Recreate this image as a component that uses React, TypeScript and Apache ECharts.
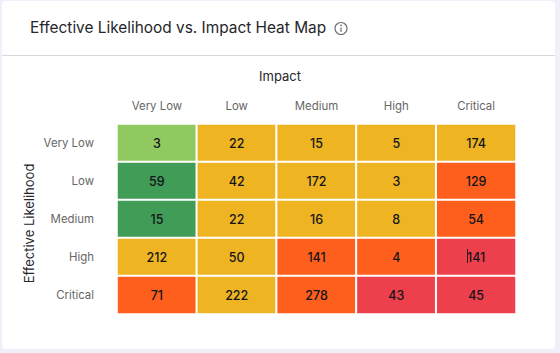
import React, { useEffect, useRef } from "react";
import * as echarts from "echarts";

const titleText = "Effective Likelihood vs. Impact Heat Map";
const xName = "Impact";
const yName = "Effective Likelihood";
const impactLabels = ["Very Low", "Low", "Medium", "High", "Critical"];
const likelihoodLabels = ["Very Low", "Low", "Medium", "High", "Critical"];
const counts = [
  [3, 22, 15, 5, 174],
  [59, 42, 172, 3, 129],
  [15, 22, 16, 8, 54],
  [212, 50, 141, 4, 141],
  [71, 222, 278, 43, 45],
];
// 0 lime, 1 green, 2 amber, 3 orange, 4 red
const levels = [
  [0, 2, 2, 2, 2],
  [1, 2, 2, 2, 3],
  [1, 2, 2, 2, 3],
  [2, 2, 3, 3, 4],
  [3, 2, 3, 4, 4],
];
const palette = ["#8fc95f", "#409c57", "#eeb422", "#fe5f1c", "#ee404c"];
const FONT = "Inter";

export default function App() {
  const ref = useRef<HTMLDivElement>(null);
  useEffect(() => {
    document.body.style.margin = "0";
    const chart = echarts.init(ref.current!, null, { renderer: "svg" });
    const data: number[][] = [];
    counts.forEach((row, r) => row.forEach((v, c) => data.push([c, r, v, levels[r][c]])));
    chart.setOption({
      animation: false,
      backgroundColor: "#eff0fa",
      textStyle: { fontFamily: FONT },
      title: {
        text: titleText,
        left: 30,
        top: 20,
        padding: 0,
        textStyle: { fontFamily: FONT, fontSize: 15.4, fontWeight: 400, color: "#26262b" },
      },
      grid: { left: 117, top: 124, width: 399, height: 190 },
      visualMap: {
        show: false,
        type: "piecewise",
        dimension: 3,
        pieces: palette.map((color, i) => ({ value: i, color })),
      },
      xAxis: {
        type: "category",
        position: "top",
        data: impactLabels,
        name: xName,
        nameLocation: "middle",
        nameGap: 42,
        nameTextStyle: { fontFamily: FONT, fontSize: 13, color: "#26262b", padding: [0, 73, 0, 0] },
        axisLine: { show: false },
        axisTick: { show: false },
        splitLine: { show: false },
        axisLabel: { fontFamily: FONT, fontSize: 11.4, color: "#666", margin: 13 },
      },
      yAxis: {
        type: "category",
        inverse: true,
        data: likelihoodLabels,
        name: yName,
        nameLocation: "middle",
        nameRotate: 90,
        nameGap: 82,
        nameMoveOverlap: false,
        nameTextStyle: { fontFamily: FONT, fontSize: 13, color: "#26262b", padding: [0, 9, 0, 0] },
        axisLine: { show: false },
        axisTick: { show: false },
        splitLine: { show: false },
        axisLabel: { fontFamily: FONT, fontSize: 11.4, color: "#666", margin: 23 },
      },
      series: [
        {
          type: "heatmap",
          data,
          encode: { x: 0, y: 1, value: 3 },
          itemStyle: { borderColor: "#ffffff", borderWidth: 2 },
          label: {
            show: true,
            formatter: (p: any) => String(p.value[2]),
            fontFamily: FONT,
            fontSize: 12.5,
            fontWeight: 500,
            color: "#14141a",
          },
        },
      ],
      graphic: [
        {
          type: "rect",
          z: -10,
          shape: { x: 2, y: 1, width: 553, height: 348, r: 4 },
          style: { fill: "#ffffff" },
        },
        {
          type: "line",
          z: -9,
          shape: { x1: 2, y1: 55.5, x2: 555, y2: 55.5 },
          style: { stroke: "#d9d9dd", lineWidth: 1 },
        },
        {
          type: "circle",
          shape: { cx: 341, cy: 28.5, r: 6 },
          style: { fill: "none", stroke: "#6b6b70", lineWidth: 1.1 },
        },
        {
          type: "line",
          shape: { x1: 341, y1: 27.5, x2: 341, y2: 32 },
          style: { stroke: "#6b6b70", lineWidth: 1.2 },
        },
        {
          type: "circle",
          shape: { cx: 341, cy: 25.3, r: 0.8 },
          style: { fill: "#6b6b70" },
        },
        {
          type: "line",
          z: 100,
          shape: { x1: 467.5, y1: 249, x2: 467.5, y2: 263 },
          style: { stroke: "#2a1a20", lineWidth: 1 },
        },
      ],
    });
    return () => chart.dispose();
  }, []);
  return <div ref={ref} style={{ width: 560, height: 353 }} />;
}
